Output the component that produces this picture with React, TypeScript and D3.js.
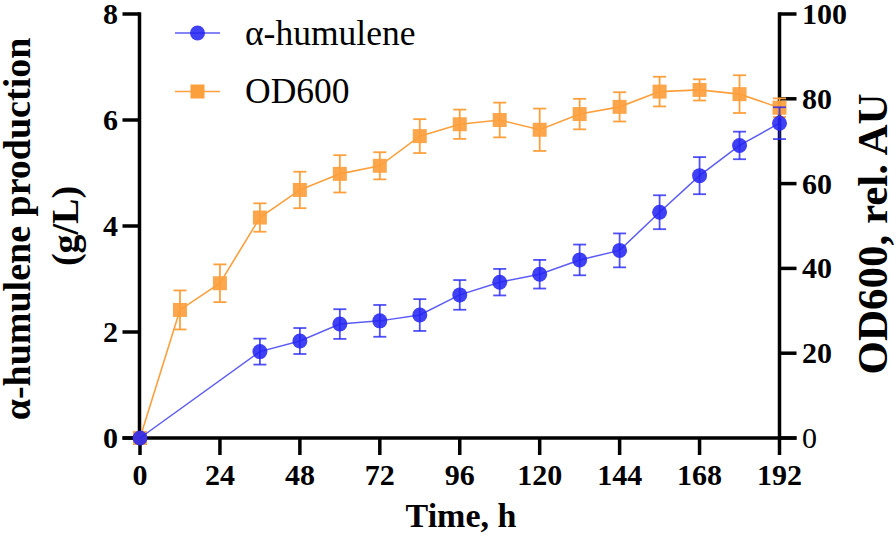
import React from "react";
import * as d3 from "d3";

const timeTicks = [0, 24, 48, 72, 96, 120, 144, 168, 192];
const leftTicks = [0, 2, 4, 6, 8];
const rightTicks = [0, 20, 40, 60, 80, 100];

const humTime = [0, 36, 48, 60, 72, 84, 96, 108, 120, 132, 144, 156, 168, 180, 192];
const humValue = [0, 1.63, 1.83, 2.15, 2.21, 2.32, 2.7, 2.94, 3.09, 3.36, 3.54, 4.26, 4.95, 5.52, 5.94];
const humErr = [0, 0.245, 0.245, 0.28, 0.3, 0.3, 0.28, 0.25, 0.27, 0.29, 0.32, 0.32, 0.35, 0.26, 0.3];

const odTime = [0, 12, 24, 36, 48, 60, 72, 84, 96, 108, 120, 132, 144, 156, 168, 180, 192];
const odValue = [0, 30.2, 36.5, 52.0, 58.5, 62.3, 64.2, 71.2, 74.0, 75.0, 72.7, 76.4, 78.1, 81.7, 82.1, 81.1, 77.9];
const odErr = [0, 4.6, 4.45, 3.35, 4.3, 4.4, 3.2, 4.0, 3.45, 4.1, 5.0, 3.6, 3.45, 3.5, 2.5, 4.45, 2.2];

const BLUE = "#2626f2";
const ORANGE = "#fca03e";
const FONT = "'Liberation Serif', 'Times New Roman', serif";

export default function App() {
  React.useEffect(() => {
    document.body.style.margin = "0";
  }, []);

  const W = 896, H = 536;
  const x = d3.scaleLinear().domain([0, 192]).range([140, 779.5]);
  const yL = d3.scaleLinear().domain([0, 8]).range([438, 14]);
  const yR = d3.scaleLinear().domain([0, 100]).range([438, 14]);

  const hum = humTime.map((t, i) => ({ t, v: humValue[i], e: humErr[i] }));
  const od = odTime.map((t, i) => ({ t, v: odValue[i], e: odErr[i] }));

  const humLine = d3.line<{ t: number; v: number }>().x(d => x(d.t)).y(d => yL(d.v));
  const odLine = d3.line<{ t: number; v: number }>().x(d => x(d.t)).y(d => yR(d.v));

  const cap = 6.5;
  const axisW = 3.5;
  const tickLen = 17;
  const xAxisY = yL(0);
  const leftX = x(0) - 0.5;
  const rightX = x(192);

  return (
    <svg width={W} height={H} style={{ display: "block", background: "#fff" }} fontFamily={FONT}>
      {/* axes */}
      <g stroke="#000" strokeWidth={axisW} fill="none">
        <line x1={leftX} y1={yL(8) - 1.75} x2={leftX} y2={xAxisY} />
        <line x1={rightX} y1={yR(100) - 1.75} x2={rightX} y2={xAxisY} />
        <line x1={leftX - tickLen} y1={xAxisY} x2={rightX + tickLen} y2={xAxisY} />
        {timeTicks.map(t => (
          <line key={"xt" + t} x1={x(t)} y1={xAxisY} x2={x(t)} y2={xAxisY + tickLen} />
        ))}
        {leftTicks.map(v => (
          <line key={"lt" + v} x1={leftX - tickLen} y1={yL(v)} x2={leftX} y2={yL(v)} />
        ))}
        {rightTicks.map(v => (
          <line key={"rt" + v} x1={rightX} y1={yR(v)} x2={rightX + tickLen} y2={yR(v)} />
        ))}
      </g>
      {/* tick labels */}
      <g fontSize={30} fontWeight="bold" fill="#000">
        {timeTicks.map(t => (
          <text key={"xl" + t} x={x(t)} y={485} textAnchor="middle">{t}</text>
        ))}
        {leftTicks.map(v => (
          <text key={"ll" + v} x={118} y={yL(v) + 10} textAnchor="end">{v}</text>
        ))}
        {rightTicks.map(v => (
          <text key={"rl" + v} x={802} y={yR(v) + 10} textAnchor="start" fontWeight={v === 0 ? "normal" : "bold"}>{v}</text>
        ))}
      </g>
      {/* axis titles */}
      <g fontWeight="bold" fill="#000">
        <text x={461} y={527} fontSize={34} textAnchor="middle">Time, h</text>
        <text transform={`translate(30,229) rotate(-90)`} fontSize={38} textAnchor="middle">α-humulene production</text>
        <text transform={`translate(78,226) rotate(-90)`} fontSize={38} textAnchor="middle">(g/L)</text>
        <text transform={`translate(887,234) rotate(-90)`} fontSize={43} textAnchor="middle">OD600, rel. AU</text>
      </g>
      {/* OD600 series */}
      <g>
        <path d={odLine(od) || ""} fill="none" stroke={ORANGE} strokeWidth={1.6} />
        {od.filter(d => d.e > 0).map(d => (
          <g key={"oe" + d.t} stroke={ORANGE} strokeWidth={1.8}>
            <line x1={x(d.t)} x2={x(d.t)} y1={yR(d.v + d.e)} y2={yR(d.v - d.e)} />
            <line x1={x(d.t) - cap} x2={x(d.t) + cap} y1={yR(d.v + d.e)} y2={yR(d.v + d.e)} />
            <line x1={x(d.t) - cap} x2={x(d.t) + cap} y1={yR(d.v - d.e)} y2={yR(d.v - d.e)} />
          </g>
        ))}
        {od.map(d => (
          <rect key={"om" + d.t} x={x(d.t) - 7} y={yR(d.v) - 7} width={14} height={14} fill={ORANGE} fillOpacity={0.92} />
        ))}
      </g>
      {/* humulene series */}
      <g>
        <path d={humLine(hum) || ""} fill="none" stroke={BLUE} strokeOpacity={0.75} strokeWidth={1.5} />
        {hum.filter(d => d.e > 0).map(d => (
          <g key={"he" + d.t} stroke={BLUE} strokeOpacity={0.8} strokeWidth={1.8}>
            <line x1={x(d.t)} x2={x(d.t)} y1={yL(d.v + d.e)} y2={yL(d.v - d.e)} />
            <line x1={x(d.t) - cap} x2={x(d.t) + cap} y1={yL(d.v + d.e)} y2={yL(d.v + d.e)} />
            <line x1={x(d.t) - cap} x2={x(d.t) + cap} y1={yL(d.v - d.e)} y2={yL(d.v - d.e)} />
          </g>
        ))}
        {hum.map(d => (
          <circle key={"hm" + d.t} cx={x(d.t)} cy={yL(d.v)} r={7.5} fill={BLUE} fillOpacity={0.88} />
        ))}
      </g>
      {/* legend */}
      <g>
        <line x1={175} x2={220} y1={33} y2={33} stroke={BLUE} strokeOpacity={0.75} strokeWidth={1.5} />
        <circle cx={197.5} cy={33} r={7.5} fill={BLUE} fillOpacity={0.88} />
        <text x={245} y={45} fontSize={35.5} fill="#000">α-humulene</text>
        <line x1={175} x2={220} y1={91.5} y2={91.5} stroke={ORANGE} strokeWidth={1.6} />
        <rect x={190.5} y={84.5} width={14} height={14} fill={ORANGE} />
        <text x={245} y={103} fontSize={35.5} fill="#000">OD600</text>
      </g>
    </svg>
  );
}
